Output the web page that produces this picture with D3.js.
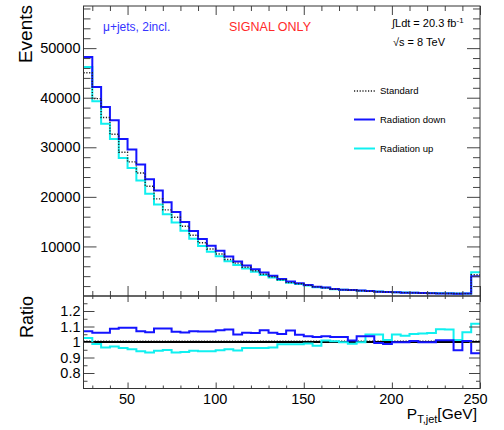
<!DOCTYPE html>
<html>
<head>
<meta charset="utf-8">
<script src="https://cdn.jsdelivr.net/npm/d3@7"></script>
<style>
  body { margin: 0; background: #fff; }
  svg { display: block; }
  text { font-family: "Liberation Sans", Arial, Helvetica, sans-serif; fill: #000; }
</style>
</head>
<body>
<svg id="chart" width="504" height="430"></svg>
<script>
// Lower bin edges of the jet pT histogram (GeV); last bin closes at 250
const binLow = [25, 30, 35, 40, 45, 50, 55, 60, 65, 70, 75, 80, 85, 90, 95, 100, 105, 110, 115, 120,
  125, 130, 135, 140, 145, 150, 155, 160, 165, 170, 175, 180, 185, 190, 195, 200, 205, 210, 215, 220,
  225, 230, 235, 240, 245];
const binHigh = 250;

// Event counts per bin
const standard = [45047, 39821, 35996, 32624, 28984, 27060, 24813, 22154, 19595, 17378,
  15891, 14062, 12243, 10749, 9476, 8466, 7370, 6632, 5798, 5104,
  4387, 3881, 3270, 2698, 2457, 2150, 1831, 1630, 1376, 1240,
  1200, 1060, 950, 870, 800, 740, 680, 630, 590, 550,
  520, 500, 490, 480, 4300];
const radiationDown = [48200, 42170, 38120, 35430, 31650, 29550, 26550, 23550, 21300, 18890,
  16940, 14920, 13100, 11480, 10120, 9110, 7960, 6950, 6140, 5400,
  4720, 4110, 3440, 2900, 2570, 2230, 1890, 1690, 1420, 1280,
  1211, 1099, 985, 864, 790, 739, 679, 634, 589, 549,
  526, 506, 464, 483, 3990];
const radiationUp = [46218, 39303, 34736, 31678, 27854, 25815, 23324, 20648, 18478, 16492,
  14826, 13162, 11545, 10104, 8907, 8017, 7031, 6267, 5572, 4905,
  4216, 3745, 3221, 2658, 2423, 2129, 1787, 1645, 1382, 1238,
  1187, 1058, 996, 912, 810, 776, 707, 663, 622, 582,
  563, 540, 496, 510, 4807];

// Axis ticks and labels
const xMajor = [50, 100, 150, 200, 250];
const xMinor = [30, 40, 60, 70, 80, 90, 110, 120, 130, 140, 160, 170, 180, 190, 210, 220, 230, 240];
const yMajor = [10000, 20000, 30000, 40000, 50000];
const ratioMajor = [0.8, 0.9, 1, 1.1, 1.2];
const ratioMinor = [0.75, 0.85, 0.95, 1.05, 1.15, 1.25];
const legendItems = ["Standard", "Radiation down", "Radiation up"];

const svg = d3.select("#chart");
const left = 83.5, right = 480;
const topY = 6, midY = 296, botY = 388.5;

const x = d3.scaleLinear().domain([25, 250]).range([left, right]);
const y = d3.scaleLinear().domain([0, 58500]).range([midY, topY]);
const yr = d3.scaleLinear().domain([0.7, 1.3]).range([botY, midY - 0.5]);

const blue = "#1414ff", cyan = "#10f0f0";

function stepPoints(vals) {
  const pts = vals.map((v, i) => [binLow[i], v]);
  pts.push([binHigh, vals[vals.length - 1]]);
  return pts;
}
const upperLine = d3.line().x(d => x(d[0])).y(d => y(d[1])).curve(d3.curveStepAfter);
const ratioLine = d3.line().x(d => x(d[0])).y(d => yr(d[1])).curve(d3.curveStepAfter);

// clip regions
const defs = svg.append("defs");
defs.append("clipPath").attr("id", "clipU").append("rect")
  .attr("x", left).attr("y", topY).attr("width", right - left).attr("height", midY - topY);
defs.append("clipPath").attr("id", "clipR").append("rect")
  .attr("x", left).attr("y", midY).attr("width", right - left).attr("height", botY - midY);

function noDomain(g) { g.select(".domain").remove(); g.selectAll("line").attr("stroke", "#444"); }

// ---------- upper panel ----------
const up = svg.append("g").attr("clip-path", "url(#clipU)");
up.append("path").datum(stepPoints(radiationUp)).attr("d", upperLine)
  .attr("fill", "none").attr("stroke", cyan).attr("stroke-width", 2);
up.append("path").datum(stepPoints(radiationDown)).attr("d", upperLine)
  .attr("fill", "none").attr("stroke", blue).attr("stroke-width", 2);
up.append("path").datum(stepPoints(standard)).attr("d", upperLine)
  .attr("fill", "none").attr("stroke", "#222").attr("stroke-width", 1.4).attr("stroke-dasharray", "1.2,1.6");

// y axis ticks (left and right, pointing inward)
const yMinorVals = d3.range(2000, 58500, 2000).filter(v => v % 10000 !== 0);
svg.append("g").attr("transform", `translate(${left},0)`)
  .call(d3.axisLeft(y).tickValues(yMajor).tickSize(-13).tickPadding(3).tickFormat(d3.format("d")))
  .call(noDomain)
  .call(g => g.selectAll("text").attr("font-size", 14.5).attr("fill", "#000")
    .style("font-family", '"Liberation Sans", Arial, sans-serif'));
svg.append("g").attr("transform", `translate(${left},0)`)
  .call(d3.axisLeft(y).tickValues(yMinorVals).tickSize(-7).tickFormat("")).call(noDomain);
svg.append("g").attr("transform", `translate(${right},0)`)
  .call(d3.axisRight(y).tickValues(yMajor).tickSize(-13).tickFormat("")).call(noDomain);
svg.append("g").attr("transform", `translate(${right},0)`)
  .call(d3.axisRight(y).tickValues(yMinorVals).tickSize(-7).tickFormat("")).call(noDomain);
// x ticks on the upper panel (top and bottom)
svg.append("g").attr("transform", `translate(0,${topY})`)
  .call(d3.axisTop(x).tickValues(xMajor).tickSize(-9).tickFormat("")).call(noDomain);
svg.append("g").attr("transform", `translate(0,${topY})`)
  .call(d3.axisTop(x).tickValues(xMinor).tickSize(-5).tickFormat("")).call(noDomain);
svg.append("g").attr("transform", `translate(0,${midY})`)
  .call(d3.axisBottom(x).tickValues(xMajor).tickSize(-10).tickFormat("")).call(noDomain);
svg.append("g").attr("transform", `translate(0,${midY})`)
  .call(d3.axisBottom(x).tickValues(xMinor).tickSize(-5).tickFormat("")).call(noDomain);

svg.append("rect").attr("x", left).attr("y", topY).attr("width", right - left).attr("height", midY - topY)
  .attr("fill", "none").attr("stroke", "#333").attr("stroke-width", 1);

// ---------- ratio panel ----------
const rp = svg.append("g").attr("clip-path", "url(#clipR)");
const ones = standard.map(() => 1);
rp.append("path").datum(stepPoints(ones)).attr("d", ratioLine)
  .attr("fill", "none").attr("stroke", "#888").attr("stroke-width", 1.2)
  .attr("stroke-dasharray", "1.2,1.6").attr("transform", "translate(0,-1.5)");
rp.append("line").attr("x1", left).attr("x2", right).attr("y1", yr(1)).attr("y2", yr(1))
  .attr("stroke", "#000").attr("stroke-width", 2);
rp.append("path").datum(stepPoints(radiationUp.map((v, i) => v / standard[i]))).attr("d", ratioLine)
  .attr("fill", "none").attr("stroke", cyan).attr("stroke-width", 2);
rp.append("path").datum(stepPoints(radiationDown.map((v, i) => v / standard[i]))).attr("d", ratioLine)
  .attr("fill", "none").attr("stroke", blue).attr("stroke-width", 2);

svg.append("g").attr("transform", `translate(${left},0)`)
  .call(d3.axisLeft(yr).tickValues(ratioMajor).tickSize(-11).tickPadding(3).tickFormat(d3.format("~g")))
  .call(noDomain)
  .call(g => g.selectAll("text").attr("font-size", 14.5).attr("fill", "#000")
    .style("font-family", '"Liberation Sans", Arial, sans-serif'));
svg.append("g").attr("transform", `translate(${left},0)`)
  .call(d3.axisLeft(yr).tickValues(ratioMinor).tickSize(-4).tickFormat("")).call(noDomain);
svg.append("g").attr("transform", `translate(${right},0)`)
  .call(d3.axisRight(yr).tickValues(ratioMajor).tickSize(-11).tickFormat("")).call(noDomain);
svg.append("g").attr("transform", `translate(${right},0)`)
  .call(d3.axisRight(yr).tickValues(ratioMinor).tickSize(-4).tickFormat("")).call(noDomain);
svg.append("g").attr("transform", `translate(0,${midY})`)
  .call(d3.axisTop(x).tickValues(xMajor).tickSize(-6).tickFormat("")).call(noDomain);
svg.append("g").attr("transform", `translate(0,${midY})`)
  .call(d3.axisTop(x).tickValues(xMinor).tickSize(-3).tickFormat("")).call(noDomain);
svg.append("g").attr("transform", `translate(0,${botY})`)
  .call(d3.axisBottom(x).tickValues(xMajor).tickSize(-6).tickPadding(5).tickFormat(d3.format("d")))
  .call(noDomain)
  .call(g => g.selectAll("text").attr("font-size", 14.5).attr("fill", "#000")
    .style("font-family", '"Liberation Sans", Arial, sans-serif')
    .attr("dx", d => d === 250 ? -5 : -1));
svg.append("g").attr("transform", `translate(0,${botY})`)
  .call(d3.axisBottom(x).tickValues(xMinor).tickSize(-3).tickFormat("")).call(noDomain);

svg.append("rect").attr("x", left).attr("y", midY).attr("width", right - left).attr("height", botY - midY)
  .attr("fill", "none").attr("stroke", "#333").attr("stroke-width", 1);

// ---------- titles ----------
svg.append("text").attr("transform", "translate(32,5) rotate(-90)")
  .attr("text-anchor", "end").attr("font-size", 19).text("Events");
svg.append("text").attr("transform", "translate(33,296) rotate(-90)")
  .attr("text-anchor", "end").attr("font-size", 18).text("Ratio");

const xt = svg.append("text").attr("x", 477).attr("y", 418.5).attr("text-anchor", "end").attr("font-size", 15.5);
xt.append("tspan").text("P");
xt.append("tspan").attr("font-size", 11).attr("dy", 4).text("T,jet");
xt.append("tspan").attr("dy", -4).text("[GeV]");

svg.append("text").attr("x", 103).attr("y", 31).attr("font-size", 12).style("fill", "#3434ff")
  .text("μ+jets, 2incl.");
svg.append("text").attr("x", 229).attr("y", 30.5).attr("font-size", 12.5).style("fill", "#ff2a2a")
  .text("SIGNAL ONLY");

const lum = svg.append("text").attr("x", 392).attr("y", 27).attr("font-size", 11);
lum.append("tspan").text("∫Ldt = 20.3 fb");
lum.append("tspan").attr("font-size", 8).attr("dy", -4).text("-1");
svg.append("text").attr("x", 393).attr("y", 46).attr("font-size", 11).text("√s = 8 TeV");

// ---------- legend ----------
const legY = [91, 119.5, 148.5];
const legStyle = [
  { stroke: "#222", width: 1.4, dash: "1.2,1.6" },
  { stroke: blue, width: 2, dash: null },
  { stroke: cyan, width: 2, dash: null }
];
const leg = svg.append("g");
legendItems.forEach((name, i) => {
  leg.append("line").attr("x1", 354).attr("x2", 375).attr("y1", legY[i]).attr("y2", legY[i])
    .attr("stroke", legStyle[i].stroke).attr("stroke-width", legStyle[i].width)
    .attr("stroke-dasharray", legStyle[i].dash);
  leg.append("text").attr("x", 380).attr("y", legY[i]).attr("dy", "0.35em")
    .attr("font-size", 9.5).text(name);
});
</script>
</body>
</html>
